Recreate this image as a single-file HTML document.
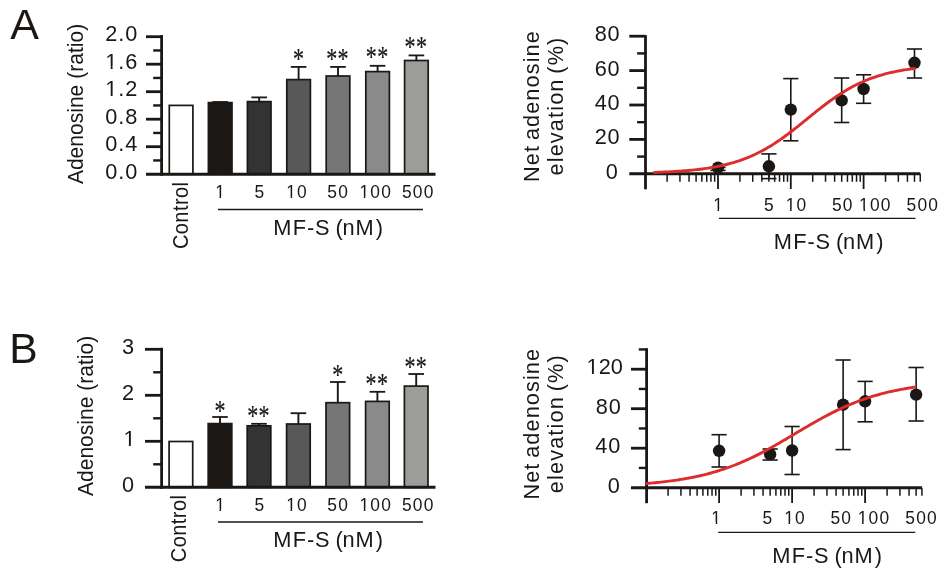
<!DOCTYPE html><html><head><meta charset="utf-8"><title>Figure</title><style>html,body{margin:0;padding:0;background:#fff}svg{display:block}text{fill:#1a1715}</style></head><body>
<svg width="950" height="574" viewBox="0 0 950 574" font-family="'Liberation Sans', Arial, sans-serif">
<rect width="950" height="574" fill="#ffffff"/>
<text transform="translate(10.3 39)" font-size="43.0" text-anchor="start" >A</text>
<text transform="translate(9.3 363)" font-size="42.7" text-anchor="start" >B</text>
<rect x="169.3" y="105.4" width="23.6" height="68.8" fill="#ffffff" stroke="#1a1715" stroke-width="1.7"/>
<line x1="220.2" y1="102.6" x2="220.2" y2="102.0" stroke="#1a1715" stroke-width="1.9" stroke-linecap="butt"/>
<line x1="212.4" y1="102.0" x2="228" y2="102.0" stroke="#1a1715" stroke-width="1.8" stroke-linecap="butt"/>
<rect x="208.4" y="102.6" width="23.6" height="71.6" fill="#1b1815" stroke="#1a1715" stroke-width="1.7"/>
<line x1="259.2" y1="101.6" x2="259.2" y2="97.4" stroke="#1a1715" stroke-width="1.9" stroke-linecap="butt"/>
<line x1="251.4" y1="97.4" x2="267.0" y2="97.4" stroke="#1a1715" stroke-width="1.8" stroke-linecap="butt"/>
<rect x="247.4" y="101.6" width="23.6" height="72.6" fill="#333333" stroke="#1a1715" stroke-width="1.7"/>
<line x1="298.6" y1="79.6" x2="298.6" y2="66.9" stroke="#1a1715" stroke-width="1.9" stroke-linecap="butt"/>
<line x1="290.8" y1="66.9" x2="306.4" y2="66.9" stroke="#1a1715" stroke-width="1.8" stroke-linecap="butt"/>
<rect x="286.8" y="79.6" width="23.6" height="94.6" fill="#585858" stroke="#1a1715" stroke-width="1.7"/>
<text transform="translate(298.8 67.5) scale(1 1.33)" font-size="22" text-anchor="middle" letter-spacing="0.4" font-family="'Liberation Serif', 'Times New Roman', serif" stroke="#1a1715" stroke-width="0.18">*</text>
<line x1="338.0" y1="76" x2="338.0" y2="66.9" stroke="#1a1715" stroke-width="1.9" stroke-linecap="butt"/>
<line x1="330.2" y1="66.9" x2="345.8" y2="66.9" stroke="#1a1715" stroke-width="1.8" stroke-linecap="butt"/>
<rect x="326.2" y="76" width="23.6" height="98.2" fill="#767676" stroke="#1a1715" stroke-width="1.7"/>
<text transform="translate(337.6 67.9) scale(1 1.33)" font-size="22" text-anchor="middle" letter-spacing="0.4" font-family="'Liberation Serif', 'Times New Roman', serif" stroke="#1a1715" stroke-width="0.18">**</text>
<line x1="377.6" y1="71.6" x2="377.6" y2="65.8" stroke="#1a1715" stroke-width="1.9" stroke-linecap="butt"/>
<line x1="369.8" y1="65.8" x2="385.4" y2="65.8" stroke="#1a1715" stroke-width="1.8" stroke-linecap="butt"/>
<rect x="365.8" y="71.6" width="23.6" height="102.6" fill="#8a8a8a" stroke="#1a1715" stroke-width="1.7"/>
<text transform="translate(377.2 66.3) scale(1 1.33)" font-size="22" text-anchor="middle" letter-spacing="0.4" font-family="'Liberation Serif', 'Times New Roman', serif" stroke="#1a1715" stroke-width="0.18">**</text>
<line x1="416.4" y1="60.5" x2="416.4" y2="55.4" stroke="#1a1715" stroke-width="1.9" stroke-linecap="butt"/>
<line x1="408.6" y1="55.4" x2="424.2" y2="55.4" stroke="#1a1715" stroke-width="1.8" stroke-linecap="butt"/>
<rect x="404.6" y="60.5" width="23.6" height="113.7" fill="#9c9c9b" stroke="#1a1715" stroke-width="1.7"/>
<text transform="translate(416 56.4) scale(1 1.33)" font-size="22" text-anchor="middle" letter-spacing="0.4" font-family="'Liberation Serif', 'Times New Roman', serif" stroke="#1a1715" stroke-width="0.18">**</text>
<line x1="161.6" y1="35.1" x2="161.6" y2="175.7" stroke="#1a1715" stroke-width="2.8" stroke-linecap="butt"/>
<line x1="146" y1="174.2" x2="435.5" y2="174.2" stroke="#1a1715" stroke-width="3.0" stroke-linecap="butt"/>
<line x1="146" y1="146.7" x2="162" y2="146.7" stroke="#1a1715" stroke-width="2.8" stroke-linecap="butt"/>
<line x1="146" y1="119.2" x2="162" y2="119.2" stroke="#1a1715" stroke-width="2.8" stroke-linecap="butt"/>
<line x1="146" y1="91.7" x2="162" y2="91.7" stroke="#1a1715" stroke-width="2.8" stroke-linecap="butt"/>
<line x1="146" y1="64.2" x2="162" y2="64.2" stroke="#1a1715" stroke-width="2.8" stroke-linecap="butt"/>
<line x1="146" y1="36.7" x2="162" y2="36.7" stroke="#1a1715" stroke-width="2.8" stroke-linecap="butt"/>
<line x1="153.2" y1="160.45" x2="162" y2="160.45" stroke="#1a1715" stroke-width="2.4" stroke-linecap="butt"/>
<line x1="153.2" y1="132.95" x2="162" y2="132.95" stroke="#1a1715" stroke-width="2.4" stroke-linecap="butt"/>
<line x1="153.2" y1="105.45" x2="162" y2="105.45" stroke="#1a1715" stroke-width="2.4" stroke-linecap="butt"/>
<line x1="153.2" y1="77.95" x2="162" y2="77.95" stroke="#1a1715" stroke-width="2.4" stroke-linecap="butt"/>
<line x1="153.2" y1="50.45" x2="162" y2="50.45" stroke="#1a1715" stroke-width="2.4" stroke-linecap="butt"/>
<text transform="translate(138.1 178.8)" font-size="21.7" text-anchor="end" letter-spacing="0.9" >0.0</text>
<text transform="translate(138.1 151.3)" font-size="21.7" text-anchor="end" letter-spacing="0.9" >0.4</text>
<text transform="translate(138.1 123.8)" font-size="21.7" text-anchor="end" letter-spacing="0.9" >0.8</text>
<text transform="translate(138.1 96.3)" font-size="21.7" text-anchor="end" letter-spacing="0.9" >1.2</text>
<text transform="translate(138.1 68.8)" font-size="21.7" text-anchor="end" letter-spacing="0.9" >1.6</text>
<text transform="translate(138.1 41.3)" font-size="21.7" text-anchor="end" letter-spacing="0.9" >2.0</text>
<text transform="translate(83.1 184.1) rotate(-90) scale(1 1.03)" font-size="21" text-anchor="start" letter-spacing="0.03" >Adenosine (ratio)</text>
<text transform="translate(220.6 198.0) scale(1 1.1)" font-size="17.4" text-anchor="middle" letter-spacing="1.2" >1</text>
<text transform="translate(259.9 198.0) scale(1 1.1)" font-size="17.4" text-anchor="middle" letter-spacing="1.2" >5</text>
<text transform="translate(297.1 198.0) scale(1 1.1)" font-size="17.4" text-anchor="middle" letter-spacing="1.2" >10</text>
<text transform="translate(338.2 198.0) scale(1 1.1)" font-size="17.4" text-anchor="middle" letter-spacing="1.2" >50</text>
<text transform="translate(375.8 198.0) scale(1 1.1)" font-size="17.4" text-anchor="middle" letter-spacing="1.2" >100</text>
<text transform="translate(418.2 198.0) scale(1 1.1)" font-size="17.4" text-anchor="middle" letter-spacing="1.2" >500</text>
<text transform="translate(188.2 181.5) rotate(-90) scale(1 1.1)" font-size="20" text-anchor="end" letter-spacing="0.45" >Control</text>
<line x1="218" y1="209.5" x2="423" y2="209.5" stroke="#1a1715" stroke-width="1.3" stroke-linecap="butt"/>
<text transform="translate(328.5 234.5)" font-size="21.8" text-anchor="middle" letter-spacing="0.7" dx="0 0.5 0.2 0 0 -1.4 -1.1 0.2 1.4">MF-S (nM)</text>
<rect x="169.1" y="441.5" width="23.6" height="45.8" fill="#ffffff" stroke="#1a1715" stroke-width="1.7"/>
<line x1="220" y1="423.6" x2="220" y2="417.0" stroke="#1a1715" stroke-width="1.9" stroke-linecap="butt"/>
<line x1="212.2" y1="417.0" x2="227.8" y2="417.0" stroke="#1a1715" stroke-width="1.8" stroke-linecap="butt"/>
<rect x="208.2" y="423.6" width="23.6" height="63.7" fill="#1b1815" stroke="#1a1715" stroke-width="1.7"/>
<text transform="translate(220.2 419.6) scale(1 1.33)" font-size="22" text-anchor="middle" letter-spacing="0.4" font-family="'Liberation Serif', 'Times New Roman', serif" stroke="#1a1715" stroke-width="0.18">*</text>
<line x1="259.0" y1="425.8" x2="259.0" y2="423.8" stroke="#1a1715" stroke-width="1.9" stroke-linecap="butt"/>
<line x1="251.2" y1="423.8" x2="266.8" y2="423.8" stroke="#1a1715" stroke-width="1.8" stroke-linecap="butt"/>
<rect x="247.2" y="425.8" width="23.6" height="61.5" fill="#333333" stroke="#1a1715" stroke-width="1.7"/>
<text transform="translate(258.6 424.5) scale(1 1.33)" font-size="22" text-anchor="middle" letter-spacing="0.4" font-family="'Liberation Serif', 'Times New Roman', serif" stroke="#1a1715" stroke-width="0.18">**</text>
<line x1="298.4" y1="424.0" x2="298.4" y2="413.2" stroke="#1a1715" stroke-width="1.9" stroke-linecap="butt"/>
<line x1="290.6" y1="413.2" x2="306.2" y2="413.2" stroke="#1a1715" stroke-width="1.8" stroke-linecap="butt"/>
<rect x="286.6" y="424.0" width="23.6" height="63.3" fill="#585858" stroke="#1a1715" stroke-width="1.7"/>
<line x1="337.8" y1="402.7" x2="337.8" y2="382.0" stroke="#1a1715" stroke-width="1.9" stroke-linecap="butt"/>
<line x1="330.0" y1="382.0" x2="345.6" y2="382.0" stroke="#1a1715" stroke-width="1.8" stroke-linecap="butt"/>
<rect x="326" y="402.7" width="23.6" height="84.6" fill="#767676" stroke="#1a1715" stroke-width="1.7"/>
<text transform="translate(338.0 383.7) scale(1 1.33)" font-size="22" text-anchor="middle" letter-spacing="0.4" font-family="'Liberation Serif', 'Times New Roman', serif" stroke="#1a1715" stroke-width="0.18">*</text>
<line x1="377.4" y1="401.4" x2="377.4" y2="391.8" stroke="#1a1715" stroke-width="1.9" stroke-linecap="butt"/>
<line x1="369.6" y1="391.8" x2="385.2" y2="391.8" stroke="#1a1715" stroke-width="1.8" stroke-linecap="butt"/>
<rect x="365.6" y="401.4" width="23.6" height="85.9" fill="#8a8a8a" stroke="#1a1715" stroke-width="1.7"/>
<text transform="translate(377 393.0) scale(1 1.33)" font-size="22" text-anchor="middle" letter-spacing="0.4" font-family="'Liberation Serif', 'Times New Roman', serif" stroke="#1a1715" stroke-width="0.18">**</text>
<line x1="416.2" y1="386.1" x2="416.2" y2="374.0" stroke="#1a1715" stroke-width="1.9" stroke-linecap="butt"/>
<line x1="408.4" y1="374.0" x2="424.0" y2="374.0" stroke="#1a1715" stroke-width="1.8" stroke-linecap="butt"/>
<rect x="404.4" y="386.1" width="23.6" height="101.2" fill="#9c9c9b" stroke="#1a1715" stroke-width="1.7"/>
<text transform="translate(415.8 375.7) scale(1 1.33)" font-size="22" text-anchor="middle" letter-spacing="0.4" font-family="'Liberation Serif', 'Times New Roman', serif" stroke="#1a1715" stroke-width="0.18">**</text>
<line x1="161.6" y1="347.8" x2="161.6" y2="488.8" stroke="#1a1715" stroke-width="2.8" stroke-linecap="butt"/>
<line x1="145" y1="487.3" x2="435.5" y2="487.3" stroke="#1a1715" stroke-width="3.0" stroke-linecap="butt"/>
<line x1="145" y1="441.3" x2="162" y2="441.3" stroke="#1a1715" stroke-width="2.8" stroke-linecap="butt"/>
<line x1="145" y1="395.3" x2="162" y2="395.3" stroke="#1a1715" stroke-width="2.8" stroke-linecap="butt"/>
<line x1="145" y1="349.3" x2="162" y2="349.3" stroke="#1a1715" stroke-width="2.8" stroke-linecap="butt"/>
<line x1="153.2" y1="464.3" x2="162" y2="464.3" stroke="#1a1715" stroke-width="2.4" stroke-linecap="butt"/>
<line x1="153.2" y1="418.3" x2="162" y2="418.3" stroke="#1a1715" stroke-width="2.4" stroke-linecap="butt"/>
<line x1="153.2" y1="372.3" x2="162" y2="372.3" stroke="#1a1715" stroke-width="2.4" stroke-linecap="butt"/>
<text transform="translate(134.9 491.9)" font-size="21.7" text-anchor="end" letter-spacing="0.9" >0</text>
<text transform="translate(136.4 445.9)" font-size="21.7" text-anchor="end" letter-spacing="0.9" >1</text>
<text transform="translate(134.9 399.9)" font-size="21.7" text-anchor="end" letter-spacing="0.9" >2</text>
<text transform="translate(134.9 353.9)" font-size="21.7" text-anchor="end" letter-spacing="0.9" >3</text>
<text transform="translate(93.0 496) rotate(-90) scale(1 1.03)" font-size="21" text-anchor="start" letter-spacing="0.03" >Adenosine (ratio)</text>
<text transform="translate(220.6 511.1) scale(1 1.1)" font-size="17.4" text-anchor="middle" letter-spacing="1.2" >1</text>
<text transform="translate(259.9 511.1) scale(1 1.1)" font-size="17.4" text-anchor="middle" letter-spacing="1.2" >5</text>
<text transform="translate(297.1 511.1) scale(1 1.1)" font-size="17.4" text-anchor="middle" letter-spacing="1.2" >10</text>
<text transform="translate(338.2 511.1) scale(1 1.1)" font-size="17.4" text-anchor="middle" letter-spacing="1.2" >50</text>
<text transform="translate(375.8 511.1) scale(1 1.1)" font-size="17.4" text-anchor="middle" letter-spacing="1.2" >100</text>
<text transform="translate(418.2 511.1) scale(1 1.1)" font-size="17.4" text-anchor="middle" letter-spacing="1.2" >500</text>
<text transform="translate(186.0 494.6) rotate(-90) scale(1 1.1)" font-size="20" text-anchor="end" letter-spacing="0.45" >Control</text>
<line x1="218" y1="522.0" x2="423" y2="522.0" stroke="#1a1715" stroke-width="1.3" stroke-linecap="butt"/>
<text transform="translate(328.5 546.8)" font-size="21.8" text-anchor="middle" letter-spacing="0.7" dx="0 0.5 0.2 0 0 -1.4 -1.1 0.2 1.4">MF-S (nM)</text>
<line x1="718.0" y1="167.4" x2="718.0" y2="170.4" stroke="#1a1715" stroke-width="1.6" stroke-linecap="butt"/>
<line x1="710.4" y1="167.4" x2="725.6" y2="167.4" stroke="#1a1715" stroke-width="1.6" stroke-linecap="butt"/>
<line x1="710.4" y1="170.4" x2="725.6" y2="170.4" stroke="#1a1715" stroke-width="1.6" stroke-linecap="butt"/>
<line x1="768.89" y1="153.9" x2="768.89" y2="178.6" stroke="#1a1715" stroke-width="1.6" stroke-linecap="butt"/>
<line x1="761.29" y1="153.9" x2="776.49" y2="153.9" stroke="#1a1715" stroke-width="1.6" stroke-linecap="butt"/>
<line x1="761.29" y1="178.6" x2="776.49" y2="178.6" stroke="#1a1715" stroke-width="1.6" stroke-linecap="butt"/>
<line x1="790.8" y1="78.6" x2="790.8" y2="140.8" stroke="#1a1715" stroke-width="1.6" stroke-linecap="butt"/>
<line x1="783.2" y1="78.6" x2="798.4" y2="78.6" stroke="#1a1715" stroke-width="1.6" stroke-linecap="butt"/>
<line x1="783.2" y1="140.8" x2="798.4" y2="140.8" stroke="#1a1715" stroke-width="1.6" stroke-linecap="butt"/>
<line x1="841.69" y1="78" x2="841.69" y2="122.5" stroke="#1a1715" stroke-width="1.6" stroke-linecap="butt"/>
<line x1="834.09" y1="78" x2="849.29" y2="78" stroke="#1a1715" stroke-width="1.6" stroke-linecap="butt"/>
<line x1="834.09" y1="122.5" x2="849.29" y2="122.5" stroke="#1a1715" stroke-width="1.6" stroke-linecap="butt"/>
<line x1="863.6" y1="74.8" x2="863.6" y2="103.3" stroke="#1a1715" stroke-width="1.6" stroke-linecap="butt"/>
<line x1="856.0" y1="74.8" x2="871.2" y2="74.8" stroke="#1a1715" stroke-width="1.6" stroke-linecap="butt"/>
<line x1="856.0" y1="103.3" x2="871.2" y2="103.3" stroke="#1a1715" stroke-width="1.6" stroke-linecap="butt"/>
<line x1="914.49" y1="49" x2="914.49" y2="78" stroke="#1a1715" stroke-width="1.6" stroke-linecap="butt"/>
<line x1="906.89" y1="49" x2="922.09" y2="49" stroke="#1a1715" stroke-width="1.6" stroke-linecap="butt"/>
<line x1="906.89" y1="78" x2="922.09" y2="78" stroke="#1a1715" stroke-width="1.6" stroke-linecap="butt"/>
<line x1="645.5" y1="35.2" x2="645.5" y2="189.3" stroke="#1a1715" stroke-width="2.8" stroke-linecap="butt"/>
<line x1="629.3" y1="173.8" x2="920.25" y2="173.8" stroke="#1a1715" stroke-width="2.9" stroke-linecap="butt"/>
<line x1="629.3" y1="139.4" x2="645.5" y2="139.4" stroke="#1a1715" stroke-width="2.8" stroke-linecap="butt"/>
<line x1="629.3" y1="105" x2="645.5" y2="105" stroke="#1a1715" stroke-width="2.8" stroke-linecap="butt"/>
<line x1="629.3" y1="70.6" x2="645.5" y2="70.6" stroke="#1a1715" stroke-width="2.8" stroke-linecap="butt"/>
<line x1="629.3" y1="36.2" x2="645.5" y2="36.2" stroke="#1a1715" stroke-width="2.8" stroke-linecap="butt"/>
<line x1="637.1" y1="156.6" x2="645.5" y2="156.6" stroke="#1a1715" stroke-width="2.4" stroke-linecap="butt"/>
<line x1="637.1" y1="122.2" x2="645.5" y2="122.2" stroke="#1a1715" stroke-width="2.4" stroke-linecap="butt"/>
<line x1="637.1" y1="87.8" x2="645.5" y2="87.8" stroke="#1a1715" stroke-width="2.4" stroke-linecap="butt"/>
<line x1="637.1" y1="53.4" x2="645.5" y2="53.4" stroke="#1a1715" stroke-width="2.4" stroke-linecap="butt"/>
<line x1="667.11" y1="173.8" x2="667.11" y2="181.8" stroke="#1a1715" stroke-width="1.5" stroke-linecap="butt"/>
<line x1="679.93" y1="173.8" x2="679.93" y2="181.8" stroke="#1a1715" stroke-width="1.5" stroke-linecap="butt"/>
<line x1="689.03" y1="173.8" x2="689.03" y2="181.8" stroke="#1a1715" stroke-width="1.5" stroke-linecap="butt"/>
<line x1="696.09" y1="173.8" x2="696.09" y2="181.8" stroke="#1a1715" stroke-width="1.5" stroke-linecap="butt"/>
<line x1="701.85" y1="173.8" x2="701.85" y2="181.8" stroke="#1a1715" stroke-width="1.5" stroke-linecap="butt"/>
<line x1="706.72" y1="173.8" x2="706.72" y2="181.8" stroke="#1a1715" stroke-width="1.5" stroke-linecap="butt"/>
<line x1="710.94" y1="173.8" x2="710.94" y2="181.8" stroke="#1a1715" stroke-width="1.5" stroke-linecap="butt"/>
<line x1="714.67" y1="173.8" x2="714.67" y2="181.8" stroke="#1a1715" stroke-width="1.5" stroke-linecap="butt"/>
<line x1="718.0" y1="173.8" x2="718.0" y2="189.0" stroke="#1a1715" stroke-width="1.8" stroke-linecap="butt"/>
<line x1="739.91" y1="173.8" x2="739.91" y2="181.8" stroke="#1a1715" stroke-width="1.5" stroke-linecap="butt"/>
<line x1="752.73" y1="173.8" x2="752.73" y2="181.8" stroke="#1a1715" stroke-width="1.5" stroke-linecap="butt"/>
<line x1="761.83" y1="173.8" x2="761.83" y2="181.8" stroke="#1a1715" stroke-width="1.5" stroke-linecap="butt"/>
<line x1="768.89" y1="173.8" x2="768.89" y2="181.8" stroke="#1a1715" stroke-width="1.5" stroke-linecap="butt"/>
<line x1="774.65" y1="173.8" x2="774.65" y2="181.8" stroke="#1a1715" stroke-width="1.5" stroke-linecap="butt"/>
<line x1="779.52" y1="173.8" x2="779.52" y2="181.8" stroke="#1a1715" stroke-width="1.5" stroke-linecap="butt"/>
<line x1="783.74" y1="173.8" x2="783.74" y2="181.8" stroke="#1a1715" stroke-width="1.5" stroke-linecap="butt"/>
<line x1="787.47" y1="173.8" x2="787.47" y2="181.8" stroke="#1a1715" stroke-width="1.5" stroke-linecap="butt"/>
<line x1="790.8" y1="173.8" x2="790.8" y2="189.0" stroke="#1a1715" stroke-width="1.8" stroke-linecap="butt"/>
<line x1="812.71" y1="173.8" x2="812.71" y2="181.8" stroke="#1a1715" stroke-width="1.5" stroke-linecap="butt"/>
<line x1="825.53" y1="173.8" x2="825.53" y2="181.8" stroke="#1a1715" stroke-width="1.5" stroke-linecap="butt"/>
<line x1="834.63" y1="173.8" x2="834.63" y2="181.8" stroke="#1a1715" stroke-width="1.5" stroke-linecap="butt"/>
<line x1="841.69" y1="173.8" x2="841.69" y2="181.8" stroke="#1a1715" stroke-width="1.5" stroke-linecap="butt"/>
<line x1="847.45" y1="173.8" x2="847.45" y2="181.8" stroke="#1a1715" stroke-width="1.5" stroke-linecap="butt"/>
<line x1="852.32" y1="173.8" x2="852.32" y2="181.8" stroke="#1a1715" stroke-width="1.5" stroke-linecap="butt"/>
<line x1="856.54" y1="173.8" x2="856.54" y2="181.8" stroke="#1a1715" stroke-width="1.5" stroke-linecap="butt"/>
<line x1="860.27" y1="173.8" x2="860.27" y2="181.8" stroke="#1a1715" stroke-width="1.5" stroke-linecap="butt"/>
<line x1="863.6" y1="173.8" x2="863.6" y2="189.0" stroke="#1a1715" stroke-width="1.8" stroke-linecap="butt"/>
<line x1="885.51" y1="173.8" x2="885.51" y2="181.8" stroke="#1a1715" stroke-width="1.5" stroke-linecap="butt"/>
<line x1="898.33" y1="173.8" x2="898.33" y2="181.8" stroke="#1a1715" stroke-width="1.5" stroke-linecap="butt"/>
<line x1="907.43" y1="173.8" x2="907.43" y2="181.8" stroke="#1a1715" stroke-width="1.5" stroke-linecap="butt"/>
<line x1="914.49" y1="173.8" x2="914.49" y2="181.8" stroke="#1a1715" stroke-width="1.5" stroke-linecap="butt"/>
<line x1="920.25" y1="173.8" x2="920.25" y2="181.8" stroke="#1a1715" stroke-width="1.5" stroke-linecap="butt"/>
<circle cx="718.0" cy="167.6" r="6.2" fill="#1a1715"/>
<circle cx="768.89" cy="166.3" r="6.2" fill="#1a1715"/>
<circle cx="790.8" cy="109.6" r="6.2" fill="#1a1715"/>
<circle cx="841.69" cy="100.4" r="6.2" fill="#1a1715"/>
<circle cx="863.6" cy="89" r="6.2" fill="#1a1715"/>
<circle cx="914.49" cy="62.8" r="6.2" fill="#1a1715"/>
<polyline points="654.3,172.44 656.3,172.37 658.3,172.30 660.3,172.22 662.3,172.13 664.3,172.05 666.3,171.95 668.3,171.85 670.3,171.75 672.3,171.64 674.3,171.52 676.3,171.39 678.3,171.26 680.3,171.12 682.3,170.97 684.3,170.82 686.3,170.65 688.3,170.48 690.3,170.29 692.3,170.10 694.3,169.89 696.3,169.67 698.3,169.44 700.3,169.19 702.3,168.94 704.3,168.66 706.3,168.38 708.3,168.07 710.3,167.75 712.3,167.42 714.3,167.06 716.3,166.69 718.3,166.29 720.3,165.88 722.3,165.44 724.3,164.98 726.3,164.50 728.3,163.99 730.3,163.45 732.3,162.89 734.3,162.31 736.3,161.69 738.3,161.05 740.3,160.37 742.3,159.66 744.3,158.93 746.3,158.16 748.3,157.35 750.3,156.51 752.3,155.64 754.3,154.73 756.3,153.78 758.3,152.80 760.3,151.78 762.3,150.73 764.3,149.64 766.3,148.51 768.3,147.34 770.3,146.14 772.3,144.90 774.3,143.62 776.3,142.31 778.3,140.97 780.3,139.59 782.3,138.19 784.3,136.75 786.3,135.29 788.3,133.79 790.3,132.28 792.3,130.74 794.3,129.18 796.3,127.61 798.3,126.02 800.3,124.42 802.3,122.80 804.3,121.18 806.3,119.56 808.3,117.94 810.3,116.31 812.3,114.70 814.3,113.09 816.3,111.48 818.3,109.90 820.3,108.32 822.3,106.77 824.3,105.23 826.3,103.72 828.3,102.24 830.3,100.77 832.3,99.34 834.3,97.94 836.3,96.57 838.3,95.23 840.3,93.93 842.3,92.66 844.3,91.42 846.3,90.23 848.3,89.07 850.3,87.94 852.3,86.85 854.3,85.81 856.3,84.79 858.3,83.82 860.3,82.88 862.3,81.97 864.3,81.10 866.3,80.27 868.3,79.47 870.3,78.71 872.3,77.97 874.3,77.27 876.3,76.60 878.3,75.96 880.3,75.35 882.3,74.77 884.3,74.21 886.3,73.68 888.3,73.18 890.3,72.70 892.3,72.24 894.3,71.81 896.3,71.40 898.3,71.00 900.3,70.63 902.3,70.28 904.3,69.94 906.3,69.63 908.3,69.33 910.3,69.04 912.3,68.77 914.3,68.52" fill="none" stroke="#de2c2c" stroke-width="2.9" stroke-linecap="round" stroke-linejoin="round"/>
<text transform="translate(618.8 178.75)" font-size="21.7" text-anchor="end" letter-spacing="0.9" >0</text>
<text transform="translate(620.6 144.35)" font-size="21.7" text-anchor="end" letter-spacing="0.9" >20</text>
<text transform="translate(620.6 109.95)" font-size="21.7" text-anchor="end" letter-spacing="0.9" >40</text>
<text transform="translate(620.6 75.55)" font-size="21.7" text-anchor="end" letter-spacing="0.9" >60</text>
<text transform="translate(620.6 41.15)" font-size="21.7" text-anchor="end" letter-spacing="0.9" >80</text>
<text transform="translate(718.6 211.1) scale(1 1.1)" font-size="17.4" text-anchor="middle" letter-spacing="1.2" >1</text>
<text transform="translate(769.49 211.1) scale(1 1.1)" font-size="17.4" text-anchor="middle" letter-spacing="1.2" >5</text>
<text transform="translate(796.6 211.1) scale(1 1.1)" font-size="17.4" text-anchor="middle" letter-spacing="1.2" >10</text>
<text transform="translate(842.79 211.1) scale(1 1.1)" font-size="17.4" text-anchor="middle" letter-spacing="1.2" >50</text>
<text transform="translate(875.4 211.1) scale(1 1.1)" font-size="17.4" text-anchor="middle" letter-spacing="1.2" >100</text>
<text transform="translate(922.89 211.1) scale(1 1.1)" font-size="17.4" text-anchor="middle" letter-spacing="1.2" >500</text>
<line x1="719.0" y1="218.4" x2="915.49" y2="218.4" stroke="#1a1715" stroke-width="1.3" stroke-linecap="butt"/>
<text transform="translate(829 249.0)" font-size="21.8" text-anchor="middle" letter-spacing="0.7" dx="0 0.5 0.2 0 0 -1.4 -1.1 0.2 1.4">MF-S (nM)</text>
<text transform="translate(538.8 106) rotate(-90)" font-size="21.7" text-anchor="middle" letter-spacing="1.1" word-spacing="-2.4">Net adenosine</text>
<text transform="translate(563.2 106) rotate(-90)" font-size="21.7" text-anchor="middle" letter-spacing="1.14" word-spacing="-2.4">elevation (%)</text>
<line x1="719.1" y1="434.7" x2="719.1" y2="467" stroke="#1a1715" stroke-width="1.6" stroke-linecap="butt"/>
<line x1="711.5" y1="434.7" x2="726.7" y2="434.7" stroke="#1a1715" stroke-width="1.6" stroke-linecap="butt"/>
<line x1="711.5" y1="467" x2="726.7" y2="467" stroke="#1a1715" stroke-width="1.6" stroke-linecap="butt"/>
<line x1="770.12" y1="449" x2="770.12" y2="460" stroke="#1a1715" stroke-width="1.6" stroke-linecap="butt"/>
<line x1="762.52" y1="449" x2="777.72" y2="449" stroke="#1a1715" stroke-width="1.6" stroke-linecap="butt"/>
<line x1="762.52" y1="460" x2="777.72" y2="460" stroke="#1a1715" stroke-width="1.6" stroke-linecap="butt"/>
<line x1="792.1" y1="426.5" x2="792.1" y2="474.5" stroke="#1a1715" stroke-width="1.6" stroke-linecap="butt"/>
<line x1="784.5" y1="426.5" x2="799.7" y2="426.5" stroke="#1a1715" stroke-width="1.6" stroke-linecap="butt"/>
<line x1="784.5" y1="474.5" x2="799.7" y2="474.5" stroke="#1a1715" stroke-width="1.6" stroke-linecap="butt"/>
<line x1="843.12" y1="360" x2="843.12" y2="449.6" stroke="#1a1715" stroke-width="1.6" stroke-linecap="butt"/>
<line x1="835.52" y1="360" x2="850.72" y2="360" stroke="#1a1715" stroke-width="1.6" stroke-linecap="butt"/>
<line x1="835.52" y1="449.6" x2="850.72" y2="449.6" stroke="#1a1715" stroke-width="1.6" stroke-linecap="butt"/>
<line x1="865.1" y1="381.4" x2="865.1" y2="421.8" stroke="#1a1715" stroke-width="1.6" stroke-linecap="butt"/>
<line x1="857.5" y1="381.4" x2="872.7" y2="381.4" stroke="#1a1715" stroke-width="1.6" stroke-linecap="butt"/>
<line x1="857.5" y1="421.8" x2="872.7" y2="421.8" stroke="#1a1715" stroke-width="1.6" stroke-linecap="butt"/>
<line x1="916.12" y1="367.5" x2="916.12" y2="421" stroke="#1a1715" stroke-width="1.6" stroke-linecap="butt"/>
<line x1="908.52" y1="367.5" x2="923.72" y2="367.5" stroke="#1a1715" stroke-width="1.6" stroke-linecap="butt"/>
<line x1="908.52" y1="421" x2="923.72" y2="421" stroke="#1a1715" stroke-width="1.6" stroke-linecap="butt"/>
<line x1="646.6" y1="348.2" x2="646.6" y2="503.2" stroke="#1a1715" stroke-width="2.8" stroke-linecap="butt"/>
<line x1="631.0" y1="487.7" x2="921.91" y2="487.7" stroke="#1a1715" stroke-width="2.9" stroke-linecap="butt"/>
<line x1="631.0" y1="448.2" x2="646.6" y2="448.2" stroke="#1a1715" stroke-width="2.8" stroke-linecap="butt"/>
<line x1="631.0" y1="408.7" x2="646.6" y2="408.7" stroke="#1a1715" stroke-width="2.8" stroke-linecap="butt"/>
<line x1="631.0" y1="369.2" x2="646.6" y2="369.2" stroke="#1a1715" stroke-width="2.8" stroke-linecap="butt"/>
<line x1="638.8" y1="467.95" x2="646.6" y2="467.95" stroke="#1a1715" stroke-width="2.4" stroke-linecap="butt"/>
<line x1="638.8" y1="428.45" x2="646.6" y2="428.45" stroke="#1a1715" stroke-width="2.4" stroke-linecap="butt"/>
<line x1="638.8" y1="388.95" x2="646.6" y2="388.95" stroke="#1a1715" stroke-width="2.4" stroke-linecap="butt"/>
<line x1="638.8" y1="349.45" x2="646.6" y2="349.45" stroke="#1a1715" stroke-width="2.4" stroke-linecap="butt"/>
<line x1="668.08" y1="487.7" x2="668.08" y2="495.7" stroke="#1a1715" stroke-width="1.5" stroke-linecap="butt"/>
<line x1="680.93" y1="487.7" x2="680.93" y2="495.7" stroke="#1a1715" stroke-width="1.5" stroke-linecap="butt"/>
<line x1="690.05" y1="487.7" x2="690.05" y2="495.7" stroke="#1a1715" stroke-width="1.5" stroke-linecap="butt"/>
<line x1="697.12" y1="487.7" x2="697.12" y2="495.7" stroke="#1a1715" stroke-width="1.5" stroke-linecap="butt"/>
<line x1="702.91" y1="487.7" x2="702.91" y2="495.7" stroke="#1a1715" stroke-width="1.5" stroke-linecap="butt"/>
<line x1="707.79" y1="487.7" x2="707.79" y2="495.7" stroke="#1a1715" stroke-width="1.5" stroke-linecap="butt"/>
<line x1="712.03" y1="487.7" x2="712.03" y2="495.7" stroke="#1a1715" stroke-width="1.5" stroke-linecap="butt"/>
<line x1="715.76" y1="487.7" x2="715.76" y2="495.7" stroke="#1a1715" stroke-width="1.5" stroke-linecap="butt"/>
<line x1="719.1" y1="487.7" x2="719.1" y2="502.9" stroke="#1a1715" stroke-width="1.8" stroke-linecap="butt"/>
<line x1="741.08" y1="487.7" x2="741.08" y2="495.7" stroke="#1a1715" stroke-width="1.5" stroke-linecap="butt"/>
<line x1="753.93" y1="487.7" x2="753.93" y2="495.7" stroke="#1a1715" stroke-width="1.5" stroke-linecap="butt"/>
<line x1="763.05" y1="487.7" x2="763.05" y2="495.7" stroke="#1a1715" stroke-width="1.5" stroke-linecap="butt"/>
<line x1="770.12" y1="487.7" x2="770.12" y2="495.7" stroke="#1a1715" stroke-width="1.5" stroke-linecap="butt"/>
<line x1="775.91" y1="487.7" x2="775.91" y2="495.7" stroke="#1a1715" stroke-width="1.5" stroke-linecap="butt"/>
<line x1="780.79" y1="487.7" x2="780.79" y2="495.7" stroke="#1a1715" stroke-width="1.5" stroke-linecap="butt"/>
<line x1="785.03" y1="487.7" x2="785.03" y2="495.7" stroke="#1a1715" stroke-width="1.5" stroke-linecap="butt"/>
<line x1="788.76" y1="487.7" x2="788.76" y2="495.7" stroke="#1a1715" stroke-width="1.5" stroke-linecap="butt"/>
<line x1="792.1" y1="487.7" x2="792.1" y2="502.9" stroke="#1a1715" stroke-width="1.8" stroke-linecap="butt"/>
<line x1="814.08" y1="487.7" x2="814.08" y2="495.7" stroke="#1a1715" stroke-width="1.5" stroke-linecap="butt"/>
<line x1="826.93" y1="487.7" x2="826.93" y2="495.7" stroke="#1a1715" stroke-width="1.5" stroke-linecap="butt"/>
<line x1="836.05" y1="487.7" x2="836.05" y2="495.7" stroke="#1a1715" stroke-width="1.5" stroke-linecap="butt"/>
<line x1="843.12" y1="487.7" x2="843.12" y2="495.7" stroke="#1a1715" stroke-width="1.5" stroke-linecap="butt"/>
<line x1="848.91" y1="487.7" x2="848.91" y2="495.7" stroke="#1a1715" stroke-width="1.5" stroke-linecap="butt"/>
<line x1="853.79" y1="487.7" x2="853.79" y2="495.7" stroke="#1a1715" stroke-width="1.5" stroke-linecap="butt"/>
<line x1="858.03" y1="487.7" x2="858.03" y2="495.7" stroke="#1a1715" stroke-width="1.5" stroke-linecap="butt"/>
<line x1="861.76" y1="487.7" x2="861.76" y2="495.7" stroke="#1a1715" stroke-width="1.5" stroke-linecap="butt"/>
<line x1="865.1" y1="487.7" x2="865.1" y2="502.9" stroke="#1a1715" stroke-width="1.8" stroke-linecap="butt"/>
<line x1="887.08" y1="487.7" x2="887.08" y2="495.7" stroke="#1a1715" stroke-width="1.5" stroke-linecap="butt"/>
<line x1="899.93" y1="487.7" x2="899.93" y2="495.7" stroke="#1a1715" stroke-width="1.5" stroke-linecap="butt"/>
<line x1="909.05" y1="487.7" x2="909.05" y2="495.7" stroke="#1a1715" stroke-width="1.5" stroke-linecap="butt"/>
<line x1="916.12" y1="487.7" x2="916.12" y2="495.7" stroke="#1a1715" stroke-width="1.5" stroke-linecap="butt"/>
<line x1="921.91" y1="487.7" x2="921.91" y2="495.7" stroke="#1a1715" stroke-width="1.5" stroke-linecap="butt"/>
<circle cx="719.1" cy="450.8" r="6.2" fill="#1a1715"/>
<circle cx="770.12" cy="454.3" r="6.2" fill="#1a1715"/>
<circle cx="792.1" cy="450.5" r="6.2" fill="#1a1715"/>
<circle cx="843.12" cy="404.7" r="6.2" fill="#1a1715"/>
<circle cx="865.1" cy="401.3" r="6.2" fill="#1a1715"/>
<circle cx="916.12" cy="394.6" r="6.2" fill="#1a1715"/>
<polyline points="647.0,483.46 649.0,483.29 651.0,483.12 653.0,482.93 655.0,482.74 657.0,482.54 659.0,482.34 661.0,482.12 663.0,481.90 665.0,481.67 667.0,481.43 669.0,481.17 671.0,480.91 673.0,480.64 675.0,480.36 677.0,480.06 679.0,479.76 681.0,479.44 683.0,479.11 685.0,478.76 687.0,478.41 689.0,478.04 691.0,477.66 693.0,477.26 695.0,476.85 697.0,476.42 699.0,475.98 701.0,475.52 703.0,475.04 705.0,474.55 707.0,474.04 709.0,473.52 711.0,472.98 713.0,472.41 715.0,471.84 717.0,471.24 719.0,470.62 721.0,469.99 723.0,469.33 725.0,468.65 727.0,467.96 729.0,467.24 731.0,466.51 733.0,465.75 735.0,464.98 737.0,464.18 739.0,463.37 741.0,462.53 743.0,461.67 745.0,460.79 747.0,459.90 749.0,458.98 751.0,458.04 753.0,457.09 755.0,456.12 757.0,455.12 759.0,454.11 761.0,453.09 763.0,452.04 765.0,450.98 767.0,449.91 769.0,448.82 771.0,447.71 773.0,446.60 775.0,445.47 777.0,444.33 779.0,443.18 781.0,442.02 783.0,440.85 785.0,439.68 787.0,438.50 789.0,437.32 791.0,436.13 793.0,434.94 795.0,433.75 797.0,432.56 799.0,431.37 801.0,430.18 803.0,429.00 805.0,427.82 807.0,426.64 809.0,425.48 811.0,424.32 813.0,423.17 815.0,422.03 817.0,420.90 819.0,419.78 821.0,418.68 823.0,417.59 825.0,416.51 827.0,415.45 829.0,414.41 831.0,413.38 833.0,412.37 835.0,411.38 837.0,410.40 839.0,409.44 841.0,408.51 843.0,407.59 845.0,406.69 847.0,405.81 849.0,404.96 851.0,404.12 853.0,403.30 855.0,402.51 857.0,401.73 859.0,400.97 861.0,400.24 863.0,399.52 865.0,398.83 867.0,398.15 869.0,397.49 871.0,396.86 873.0,396.24 875.0,395.64 877.0,395.06 879.0,394.50 881.0,393.96 883.0,393.43 885.0,392.92 887.0,392.43 889.0,391.95 891.0,391.50 893.0,391.05 895.0,390.63 897.0,390.21 899.0,389.81 901.0,389.43 903.0,389.06 905.0,388.70 907.0,388.36 909.0,388.03 911.0,387.71 913.0,387.41 915.0,387.11" fill="none" stroke="#de2c2c" stroke-width="2.9" stroke-linecap="round" stroke-linejoin="round"/>
<text transform="translate(620.6 492.65)" font-size="21.7" text-anchor="end" letter-spacing="0.9" >0</text>
<text transform="translate(621.2 453.15)" font-size="21.7" text-anchor="end" letter-spacing="0.9" >40</text>
<text transform="translate(621.8 413.65)" font-size="21.7" text-anchor="end" letter-spacing="0.9" >80</text>
<text transform="translate(623 374.15)" font-size="21.7" text-anchor="end" letter-spacing="0.1" >120</text>
<text transform="translate(716.8 524.0) scale(1 1.1)" font-size="17.4" text-anchor="middle" letter-spacing="1.2" >1</text>
<text transform="translate(767.82 524.0) scale(1 1.1)" font-size="17.4" text-anchor="middle" letter-spacing="1.2" >5</text>
<text transform="translate(795 524.0) scale(1 1.1)" font-size="17.4" text-anchor="middle" letter-spacing="1.2" >10</text>
<text transform="translate(841.32 524.0) scale(1 1.1)" font-size="17.4" text-anchor="middle" letter-spacing="1.2" >50</text>
<text transform="translate(874 524.0) scale(1 1.1)" font-size="17.4" text-anchor="middle" letter-spacing="1.2" >100</text>
<text transform="translate(921.62 524.0) scale(1 1.1)" font-size="17.4" text-anchor="middle" letter-spacing="1.2" >500</text>
<line x1="718.2" y1="532.3" x2="915.22" y2="532.3" stroke="#1a1715" stroke-width="1.3" stroke-linecap="butt"/>
<text transform="translate(827.5 563.0)" font-size="21.8" text-anchor="middle" letter-spacing="0.7" dx="0 0.5 0.2 0 0 -1.4 -1.1 0.2 1.4">MF-S (nM)</text>
<text transform="translate(538.8 423.7) rotate(-90)" font-size="21.7" text-anchor="middle" letter-spacing="1.1" word-spacing="-2.4">Net adenosine</text>
<text transform="translate(563.2 423.7) rotate(-90)" font-size="21.7" text-anchor="middle" letter-spacing="1.14" word-spacing="-2.4">elevation (%)</text>
<rect x="104.37" y="94.00" width="6.33" height="4.00" fill="#ffffff"/>
<rect x="112.59" y="94.00" width="5.89" height="4.00" fill="#ffffff"/>
<rect x="104.37" y="66.00" width="6.33" height="4.00" fill="#ffffff"/>
<rect x="112.59" y="66.00" width="5.89" height="4.00" fill="#ffffff"/>
<rect x="214.46" y="196.00" width="5.07" height="3.00" fill="#ffffff"/>
<rect x="221.05" y="196.00" width="4.72" height="3.00" fill="#ffffff"/>
<rect x="285.53" y="196.00" width="5.07" height="3.00" fill="#ffffff"/>
<rect x="292.12" y="196.00" width="4.72" height="3.00" fill="#ffffff"/>
<rect x="358.79" y="196.00" width="5.07" height="3.00" fill="#ffffff"/>
<rect x="365.38" y="196.00" width="4.72" height="3.00" fill="#ffffff"/>
<rect x="122.56" y="444.00" width="6.33" height="3.00" fill="#ffffff"/>
<rect x="130.78" y="444.00" width="5.89" height="3.00" fill="#ffffff"/>
<rect x="214.46" y="509.00" width="5.07" height="3.00" fill="#ffffff"/>
<rect x="221.05" y="509.00" width="4.72" height="3.00" fill="#ffffff"/>
<rect x="285.53" y="509.00" width="5.07" height="3.00" fill="#ffffff"/>
<rect x="292.12" y="509.00" width="4.72" height="3.00" fill="#ffffff"/>
<rect x="358.79" y="509.00" width="5.07" height="3.00" fill="#ffffff"/>
<rect x="365.38" y="509.00" width="4.72" height="3.00" fill="#ffffff"/>
<rect x="712.46" y="209.00" width="5.07" height="3.00" fill="#ffffff"/>
<rect x="719.05" y="209.00" width="4.72" height="3.00" fill="#ffffff"/>
<rect x="785.03" y="209.00" width="5.07" height="3.00" fill="#ffffff"/>
<rect x="791.62" y="209.00" width="4.72" height="3.00" fill="#ffffff"/>
<rect x="858.39" y="209.00" width="5.07" height="3.00" fill="#ffffff"/>
<rect x="864.98" y="209.00" width="4.72" height="3.00" fill="#ffffff"/>
<rect x="585.63" y="372.00" width="6.33" height="4.00" fill="#ffffff"/>
<rect x="593.85" y="372.00" width="5.89" height="4.00" fill="#ffffff"/>
<rect x="710.66" y="522.00" width="5.07" height="3.00" fill="#ffffff"/>
<rect x="717.25" y="522.00" width="4.72" height="3.00" fill="#ffffff"/>
<rect x="783.43" y="522.00" width="5.07" height="3.00" fill="#ffffff"/>
<rect x="790.02" y="522.00" width="4.72" height="3.00" fill="#ffffff"/>
<rect x="856.99" y="522.00" width="5.07" height="3.00" fill="#ffffff"/>
<rect x="863.58" y="522.00" width="4.72" height="3.00" fill="#ffffff"/>
</svg></body></html>
